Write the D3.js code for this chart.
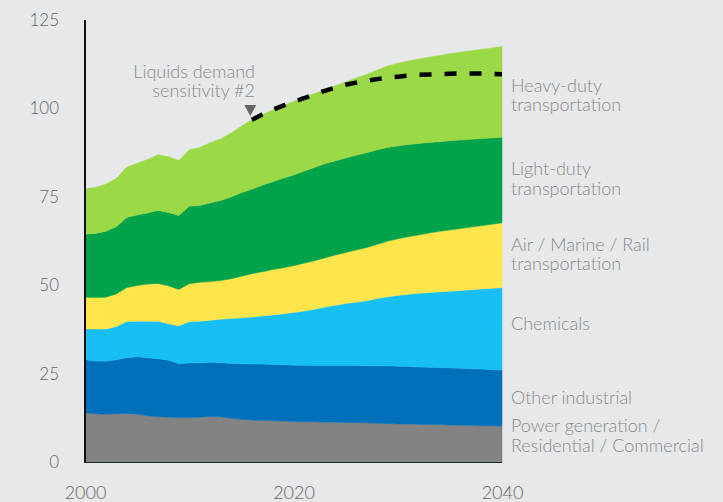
<!DOCTYPE html>
<html>
<head>
<meta charset="utf-8">
<script src="https://cdn.jsdelivr.net/npm/d3@7"></script>
<style>
  html, body { margin: 0; padding: 0; background: #e7e8e9; }
  svg { display: block; }
  text { font-family: Lato, "Open Sans", sans-serif; }
</style>
</head>
<body>
<svg id="chart" width="723" height="502"></svg>
<script>
const years = d3.range(2000, 2041);

const powerResCom = [14.0,13.8,13.6,13.8,13.8,13.7,13.2,12.9,12.8,12.7,12.7,12.8,13.0,12.9,12.5,12.2,12.0,11.9,11.8,11.7,11.6,11.5,11.5,11.4,11.4,11.3,11.3,11.2,11.1,11.0,10.9,10.9,10.8,10.7,10.7,10.6,10.5,10.5,10.4,10.4,10.3];
const otherIndustrial = [15.0,14.9,15.0,15.2,15.8,16.2,16.4,16.4,16.1,15.2,15.4,15.4,15.3,15.3,15.5,15.7,15.8,15.9,15.9,15.9,15.9,16.0,15.9,16.0,16.0,16.1,16.1,16.1,16.2,16.3,16.3,16.2,16.2,16.2,16.1,16.1,16.1,16.0,16.0,15.8,15.8];
const chemicals = [8.7,9.0,9.1,9.4,10.2,10.0,10.3,10.6,10.3,10.7,11.7,11.7,11.9,12.3,12.7,13.0,13.3,13.6,14.0,14.4,14.9,15.3,15.9,16.5,17.0,17.5,17.9,18.4,19.0,19.5,20.0,20.4,20.8,21.1,21.4,21.7,22.0,22.3,22.6,23.0,23.3];
const airMarineRail = [9.0,8.9,9.0,9.2,9.6,10.1,10.5,10.7,10.7,10.3,10.7,11.0,10.9,10.9,11.2,11.7,12.2,12.5,12.8,13.0,13.2,13.5,13.7,13.9,14.2,14.4,14.7,15.0,15.3,15.7,16.0,16.3,16.5,16.8,17.1,17.3,17.5,17.7,17.9,18.1,18.3];
const lightDuty = [17.8,18.1,18.6,19.0,19.8,19.9,20.1,20.6,20.7,20.9,21.9,21.7,22.2,22.6,23.1,23.6,23.9,24.4,24.8,25.3,25.6,26.0,26.3,26.6,26.6,26.7,26.8,26.8,26.7,26.5,26.2,26.0,25.8,25.6,25.3,25.2,25.0,24.8,24.6,24.4,24.2];
const heavyDuty = [12.8,13.0,13.3,13.6,14.2,14.6,15.1,15.7,15.8,15.5,15.9,16.4,17.0,17.4,18.0,18.8,19.6,20.0,20.3,20.5,20.8,20.8,20.9,20.9,21.2,21.5,21.8,22.1,22.5,23.0,23.4,23.6,23.9,24.1,24.4,24.6,24.8,25.0,25.2,25.4,25.6];

const sensitivityYears = d3.range(2016, 2041);
const sensitivity2 = [96.8,98.3,99.6,100.8,101.9,102.9,104.0,105.0,105.9,106.7,107.3,107.8,108.3,108.7,109.0,109.3,109.5,109.6,109.7,109.8,109.9,109.9,109.9,109.8,109.7];

const seriesKeys = ["power","other","chem","air","light","heavy"];
const seriesLabels = [
  ["Power generation /", "Residential / Commercial"],
  ["Other industrial"],
  ["Chemicals"],
  ["Air / Marine / Rail", "transportation"],
  ["Light-duty", "transportation"],
  ["Heavy-duty", "transportation"]
];
const seriesColors = ["#838383","#0070bb","#18bff5","#ffe54c","#00a34a","#9cd946"];
const yTicks = [0,25,50,75,100,125];
const xTicks = [2000,2020,2040];

const table = years.map((yr, i) => ({
  year: yr,
  power: powerResCom[i], other: otherIndustrial[i], chem: chemicals[i],
  air: airMarineRail[i], light: lightDuty[i], heavy: heavyDuty[i]
}));

const svg = d3.select("#chart");
const x = d3.scaleLinear().domain([2000, 2040]).range([85, 502]);
const y = d3.scaleLinear().domain([0, 125]).range([462.5, 20]);

const stacked = d3.stack().keys(seriesKeys)(table);
const area = d3.area()
  .x(d => x(d.data.year))
  .y0(d => y(d[0]))
  .y1(d => y(d[1]));

svg.append("g").selectAll("path").data(stacked).join("path")
  .attr("d", area)
  .attr("fill", (d, i) => seriesColors[i])
  .attr("stroke", (d, i) => seriesColors[i])
  .attr("stroke-width", 0.5);

// dashed sensitivity line
const line = d3.line().x(d => x(d[0])).y(d => y(d[1]));
svg.append("path")
  .datum(sensitivityYears.map((yr, i) => [yr, sensitivity2[i]]))
  .attr("d", line)
  .attr("fill", "none")
  .attr("stroke", "#000")
  .attr("stroke-width", 4.5)
  .attr("stroke-dasharray", "12,13");

// triangle marker
const tx = x(2016) - 1.5, ty = 116;
svg.append("path")
  .attr("d", `M${tx-6},${ty-11}L${tx+6},${ty-11}L${tx},${ty}Z`)
  .attr("fill", "#666");

// annotation
const ann = svg.append("text")
  .attr("text-anchor", "end")
  .attr("fill", "#8a8a8a")
  .attr("font-size", 18)
  .attr("font-weight", 300);
ann.append("tspan").attr("x", 255).attr("y", 78).text("Liquids demand");
ann.append("tspan").attr("x", 255).attr("y", 97).text("sensitivity #2");

// axes
const yAxis = d3.axisLeft(y).tickValues(yTicks).tickSize(0).tickPadding(26);
const gy = svg.append("g").attr("transform", "translate(85,0)").call(yAxis);
gy.select(".domain").remove();
gy.selectAll("text").attr("font-size", 17).attr("fill", "#666")
  .attr("font-family", "Lato, sans-serif").attr("font-weight", 300);

const xAxis = d3.axisBottom(x).tickValues(xTicks).tickFormat(d3.format("d")).tickSize(0).tickPadding(24);
const gx = svg.append("g").attr("transform", "translate(0,462.5)").call(xAxis);
gx.select(".domain").remove();
gx.selectAll("text").attr("font-size", 18).attr("fill", "#666")
  .attr("font-family", "Lato, sans-serif").attr("font-weight", 300);

svg.append("line").attr("x1", 85).attr("x2", 85).attr("y1", y(125)).attr("y2", y(0))
  .attr("stroke", "#111").attr("stroke-width", 2);
svg.append("line").attr("x1", 84).attr("x2", x(2040)).attr("y1", y(0)).attr("y2", y(0))
  .attr("stroke", "#1a2a2a").attr("stroke-width", 1);

// right labels
const labelY = [[431.7, 451.7], [404.3], [330], [250.7, 270], [175, 195], [91.7, 111]];
seriesLabels.forEach((lines, i) => {
  const t = svg.append("text").attr("fill", "#8a8a8a").attr("font-size", 18).attr("font-weight", 300);
  lines.forEach((ln, j) => t.append("tspan").attr("x", 511).attr("y", labelY[i][j]).text(ln));
});
</script>
</body>
</html>
